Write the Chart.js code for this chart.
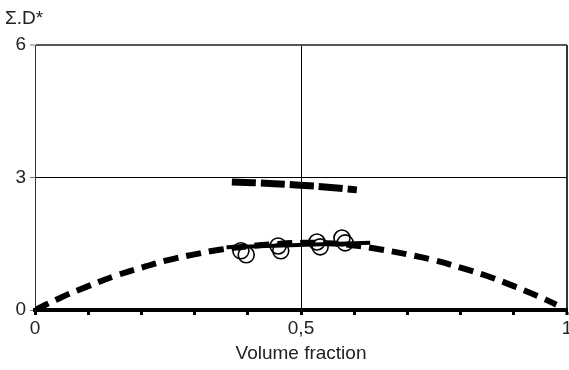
<!DOCTYPE html>
<html>
<head>
<meta charset="utf-8">
<script src="https://cdn.jsdelivr.net/npm/chart.js@4.4.1/dist/chart.umd.min.js"></script>
<style>
html,body{margin:0;padding:0;background:#fff;}
#wrap{width:569px;height:370px;position:relative;}
</style>
</head>
<body>
<div id="wrap"><canvas id="c" width="569" height="370"></canvas></div>
<script>
// Data
const curveX = [0, 0.05, 0.1, 0.15, 0.2, 0.25, 0.3, 0.35, 0.4, 0.45, 0.5, 0.55, 0.6, 0.65, 0.7, 0.75, 0.8, 0.85, 0.9, 0.95, 0.98];
const curveY = [0, 0.29, 0.54, 0.77, 0.96, 1.13, 1.26, 1.37, 1.44, 1.49, 1.52, 1.51, 1.46, 1.37, 1.26, 1.13, 0.96, 0.77, 0.54, 0.29, 0.12];
const upperX = [0.37, 0.45, 0.53, 0.605];
const upperY = [2.90, 2.86, 2.80, 2.72];
const solidX = [0.36, 0.63];
const solidY = [1.42, 1.52];
const circleX = [0.387, 0.397, 0.457, 0.462, 0.530, 0.536, 0.577, 0.583];
const circleY = [1.34, 1.25, 1.45, 1.34, 1.54, 1.43, 1.63, 1.52];
const yTicks = [0, 3, 6];
const xLabels = {0: '0', 0.5: '0,5', 1: '1'};
const yTitle = 'Σ.D*';
const xTitle = 'Volume fraction';

const pts = (xs, ys) => xs.map((x, i) => ({x: x, y: ys[i]}));
const FONT = "'Liberation Sans', Arial, sans-serif";

const yLabelPlugin = {
  id: 'yLabel',
  afterDraw(chart) {
    const ctx = chart.ctx;
    ctx.save();
    ctx.fillStyle = '#222';
    ctx.font = '19px ' + FONT;
    ctx.textBaseline = 'middle';
    ctx.textAlign = 'left';
    ctx.fillText(yTitle, 5, 19);
    ctx.restore();
  }
};

new Chart(document.getElementById('c'), {
  type: 'scatter',
  data: {
    datasets: [
      {
        type: 'line',
        data: pts(curveX, curveY),
        borderColor: '#000',
        borderWidth: 6,
        borderDash: [15, 8],
        pointRadius: 0,
        tension: 0.4,
        fill: false
      },
      {
        type: 'line',
        data: pts(upperX, upperY),
        borderColor: '#000',
        borderWidth: 7,
        borderDash: [24, 5],
        pointRadius: 0,
        tension: 0.3,
        fill: false
      },
      {
        type: 'line',
        data: pts(solidX, solidY),
        borderColor: '#000',
        borderWidth: 4,
        pointRadius: 0,
        fill: false
      },
      {
        type: 'scatter',
        data: pts(circleX, circleY),
        showLine: false,
        pointStyle: 'circle',
        pointRadius: 8,
        pointBorderWidth: 1.6,
        pointBorderColor: '#000',
        pointBackgroundColor: 'rgba(0,0,0,0)'
      }
    ]
  },
  options: {
    responsive: false,
    animation: false,
    events: [],
    layout: {autoPadding: false, padding: {left: 0, right: 2, top: 45, bottom: 0}},
    plugins: {legend: {display: false}, tooltip: {enabled: false}},
    scales: {
      x: {
        type: 'linear',
        min: 0,
        max: 1,
        afterFit(s) { s.height = 60; s.paddingLeft = 0; s.paddingRight = 0; },
        afterBuildTicks(s) {
          s.ticks = [0,1,2,3,4,5,6,7,8,9,10].map(i => ({value: i / 10}));
        },
        ticks: {
          autoSkip: false,
          maxRotation: 0,
          padding: 2,
          color: '#222',
          font: {family: FONT, size: 19},
          callback(v) {
            const k = Math.round(v * 10) / 10;
            return xLabels[k] !== undefined ? xLabels[k] : '';
          }
        },
        grid: {
          drawOnChartArea: true,
          color(c) {
            const v = Math.round(c.tick.value * 10) / 10;
            if (v === 0.5) return '#000';
            if (v === 1) return '#333';
            return 'rgba(0,0,0,0)';
          },
          lineWidth(c) {
            const v = Math.round(c.tick.value * 10) / 10;
            return v === 1 ? 2 : 1;
          },
          tickColor: '#000',
          tickWidth: 3,
          tickLength: 5
        },
        border: {display: true, color: '#000', width: 4},
        title: {
          display: true,
          text: xTitle,
          color: '#222',
          font: {family: FONT, size: 19},
          padding: {top: 2, bottom: 5}
        }
      },
      y: {
        type: 'linear',
        min: 0,
        max: 6,
        afterFit(s) { s.width = 35; },
        afterBuildTicks(s) {
          s.ticks = yTicks.map(v => ({value: v}));
        },
        ticks: {
          padding: 4,
          color: '#222',
          font: {family: FONT, size: 19},
          callback(v) { return String(v); }
        },
        grid: {
          color(c) {
            if (c.tick.value === 3) return '#000';
            if (c.tick.value === 6) return '#555';
            return 'rgba(0,0,0,0)';
          },
          lineWidth(c) { return c.tick.value === 6 ? 2 : 1; },
          tickColor: '#777',
          tickLength: 5,
          tickWidth: 1
        },
        border: {display: true, color: '#333', width: 1}
      }
    }
  },
  plugins: [yLabelPlugin]
});
</script>
</body>
</html>
